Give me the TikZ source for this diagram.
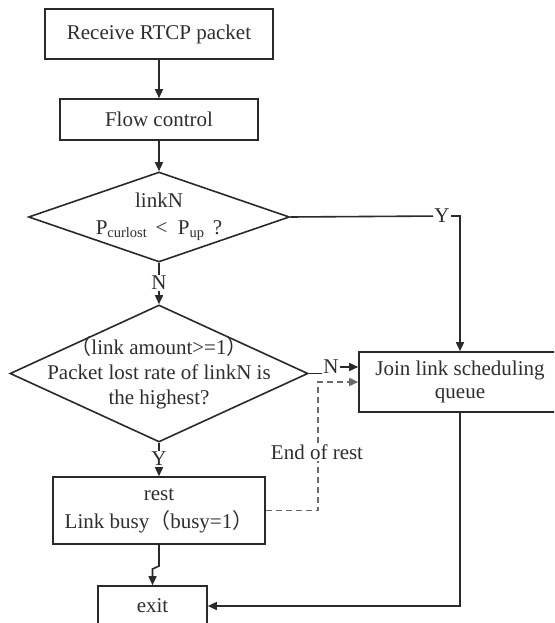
\documentclass[tikz,border=0pt]{standalone}
\usepackage{fontspec}
\setmainfont{Liberation Serif}
\newfontfamily\cjk{Noto Sans CJK SC}
\usetikzlibrary{arrows.meta,shapes.geometric}
\definecolor{linec}{HTML}{2A2A2A}
\definecolor{dashc}{HTML}{6A6A6A}
\definecolor{txtc}{HTML}{2E2E2E}
\newcommand{\lp}{{\cjk （}}
\newcommand{\rp}{{\cjk ）}}
\newcommand{\subsc}[1]{\raisebox{-0.35ex}{\fontsize{14.5}{14.5}\selectfont #1}}
\tikzset{
  base/.style={font=\fontsize{21}{26}\selectfont, text=txtc},
  box/.style={base, draw=linec, line width=1.6pt, rectangle, inner sep=0pt, align=center},
  dia/.style={draw=linec, line width=1.6pt, diamond, inner sep=0pt},
  txt/.style={base, align=center, inner sep=0pt},
  lab/.style={base, fill=white, inner sep=1pt},
  ln/.style={draw=linec, line width=1.6pt},
  arr/.style={draw=linec, line width=1.6pt, -{Triangle[length=9pt,width=8pt]}},
  dsh/.style={draw=dashc, line width=1.6pt, dash pattern=on 6pt off 4pt, -{Triangle[length=9pt,width=8pt]}}
}
\begin{document}
\begin{tikzpicture}[x=1pt,y=-1pt]
\path[use as bounding box] (0,0) rectangle (554,623);
\clip (0,0) rectangle (554,623);
\fill[white] (0,0) rectangle (554,623);

\node[box, minimum width=228pt, minimum height=50pt] (b1) at (159,34) {Receive RTCP packet};
\node[box, minimum width=198pt, minimum height=41pt] (b2) at (159,119.5) {Flow control};
\node[dia, minimum width=261pt, minimum height=90pt] (d1) at (159,217) {};
\node[txt] (t1) at (159,217) {linkN\\[1pt]P\subsc{curlost}\ \,<\ \ P\subsc{up}\ \,?};
\node[dia, minimum width=298pt, minimum height=137pt] (d2) at (159,373.5) {};
\node[txt, font=\fontsize{21}{25}\selectfont] (t2) at (159,373) {\lp link amount>=1\rp\\Packet lost rate of linkN is\\the highest?};
\node[box, minimum width=202pt, minimum height=60pt, font=\fontsize{21}{23.5}\selectfont] (b3) at (460,382) {Join link scheduling\\queue};
\node[box, minimum width=212pt, minimum height=67pt, font=\fontsize{21}{28}\selectfont] (rest) at (159,510.5) {rest\\Link busy\lp busy=1\rp};
\node[box, minimum width=109pt, minimum height=40pt] (exit) at (152.5,606) {exit};

\draw[arr] (b1) -- (b2);
\draw[arr] (b2) -- (d1);

\node[lab] (n1) at (159,283) {N};
\draw[ln] (d1.south) -- (n1);
\draw[arr] (n1) -- (d2.north);

\node[lab] (y1) at (442,216) {Y};
\draw[ln] (d1.east) -- (y1);
\draw[arr] (y1.east) -| (b3.north);

\node[lab] (n2) at (331,367) {N};
\draw[ln] (d2.east) -- (d2.east -| n2.west);
\draw[arr] (n2.east) -- (n2.east -| b3.west);

\node[lab] (y2) at (159,459) {Y};
\draw[ln] (d2.south) -- (y2);
\draw[arr] (y2) -- (rest);

\coordinate (j1) at (159,566);
\coordinate (j2) at (152.5,569);
\draw[arr] (rest.south) -- (j1) -- (j2) -- (exit.north);

\coordinate (dtop) at (318,382);
\draw[dsh] (rest.east) -| (dtop) -- (dtop -| b3.west);
\node[lab] (eor) at (317,452) {End of rest};

\draw[arr] (b3.south) |- (exit.east);
\end{tikzpicture}
\end{document}
